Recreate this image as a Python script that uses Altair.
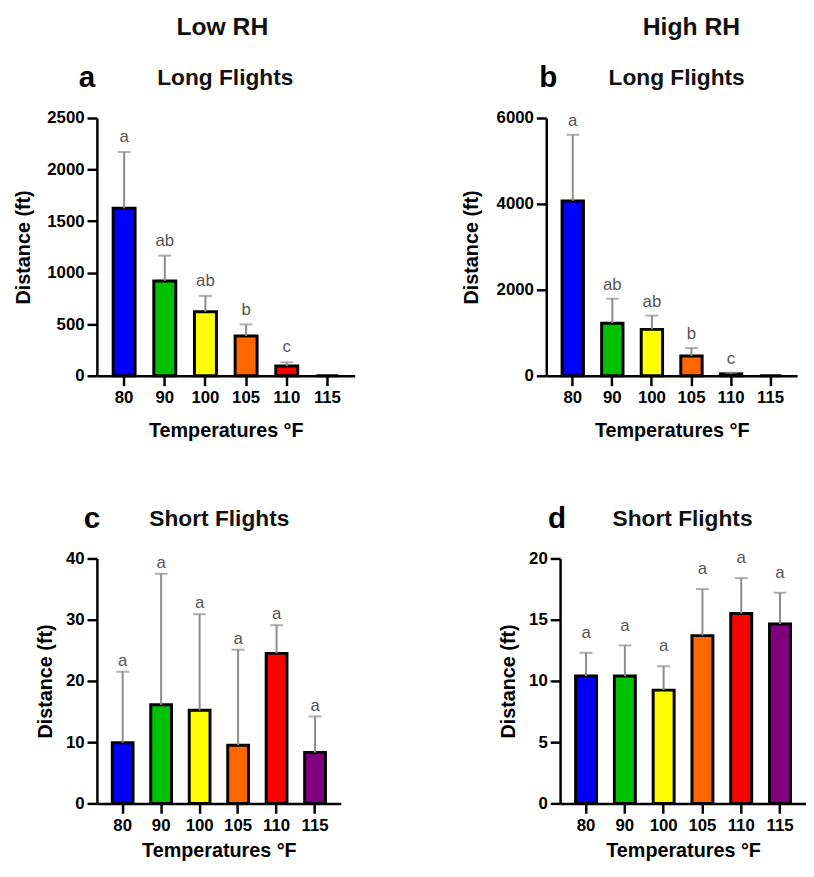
import altair as alt
import pandas as pd

temps = ["80", "90", "100", "105", "110", "115"]
colors = ["#0000ff", "#00c000", "#ffff00", "#ff6600", "#ff0000", "#800080"]

# Panel a: Low RH, long flights
a_mean = [1625, 920, 620, 385, 95, 0]
a_sd = [545, 245, 155, 113, 35, 0]
a_letters = ["a", "ab", "ab", "b", "c", ""]

# Panel b: High RH, long flights
b_mean = [4070, 1220, 1080, 460, 45, 0]
b_sd = [1540, 575, 320, 185, 25, 0]
b_letters = ["a", "ab", "ab", "b", "c", ""]

# Panel c: Low RH, short flights
c_mean = [9.9, 16.1, 15.2, 9.5, 24.5, 8.3]
c_sd = [11.6, 21.4, 15.7, 15.6, 4.6, 5.9]
c_letters = ["a", "a", "a", "a", "a", "a"]

# Panel d: High RH, short flights
d_mean = [10.4, 10.4, 9.25, 13.7, 15.5, 14.65]
d_sd = [1.9, 2.5, 1.95, 3.8, 2.9, 2.55]
d_letters = ["a", "a", "a", "a", "a", "a"]

FONT = "Liberation Sans"


def panel(mean, sd, letters, yticks, W, H, L, T, B, letter, letter_x, sub, sub_x,
          header=None, header_x=0, ytitle_x=-74, xtitle_y=55, lab_dy=-12):
    df = pd.DataFrame({"temp": temps, "mean": mean, "sd": sd, "lab": letters})
    df["top"] = df["mean"] + df["sd"]
    errdf = df[df["mean"] > 0]

    xenc = alt.X("temp:N", sort=temps,
                 scale=alt.Scale(paddingInner=0.46, paddingOuter=0.4),
                 axis=alt.Axis(title="Temperatures °F", labelAngle=0,
                               labelFont=FONT, labelFontSize=17, labelFontWeight="bold",
                               labelColor="black", labelPadding=4,
                               titleFont=FONT, titleFontSize=20, titleFontWeight="bold",
                               titleColor="black", titleY=xtitle_y, titleBaseline="middle",
                               domainColor="black", domainWidth=2.5,
                               tickColor="black", tickWidth=2.5, tickSize=10))
    ydomain = [0, yticks[-1]]
    yscale = alt.Scale(domain=ydomain, nice=False, zero=True)
    yaxis = alt.Axis(title="Distance (ft)", values=yticks, grid=False, format="d",
                     labelFont=FONT, labelFontSize=17, labelFontWeight="bold",
                     labelColor="black", labelPadding=3,
                     titleFont=FONT, titleFontSize=20, titleFontWeight="bold",
                     titleColor="black", titleX=ytitle_x, titleY=H / 2,
                     titleBaseline="middle",
                     domainColor="black", domainWidth=2.5,
                     tickColor="black", tickWidth=2.5, tickSize=10)

    base = alt.Chart(df)
    bars = base.mark_bar(stroke="black", strokeWidth=3).encode(
        x=xenc,
        y=alt.Y("mean:Q", scale=yscale, axis=yaxis),
        color=alt.Color("temp:N", scale=alt.Scale(domain=temps, range=colors), legend=None),
    )
    err = alt.Chart(errdf).mark_rule(color="#8c8c8c", strokeWidth=2).encode(
        x=alt.X("temp:N", sort=temps),
        y=alt.Y("mean:Q"),
        y2="top:Q",
    )
    caps = alt.Chart(errdf).mark_tick(color="#8c8c8c", thickness=2, size=13).encode(
        x=alt.X("temp:N", sort=temps),
        y=alt.Y("top:Q"),
    )
    labs = alt.Chart(errdf).mark_text(font=FONT, fontSize=17, color="#555555",
                                      baseline="middle", dy=lab_dy).encode(
        x=alt.X("temp:N", sort=temps),
        y=alt.Y("top:Q"),
        text="lab:N",
    )
    one = pd.DataFrame({"t": [letter], "s": [sub], "h": [header or ""]})
    let_t = alt.Chart(one).mark_text(font=FONT, fontSize=30, fontWeight="bold",
                                     color="black", baseline="middle").encode(
        text="t:N", x=alt.value(letter_x), y=alt.value(-40))
    sub_t = alt.Chart(one).mark_text(font=FONT, fontSize=23, fontWeight="bold",
                                     color="#111111", baseline="middle").encode(
        text="s:N", x=alt.value(sub_x), y=alt.value(-40))
    bound = alt.Chart(one).mark_rule(opacity=0, strokeWidth=1, color="white").encode(
        x=alt.value(-L), x2=alt.value(W), y=alt.value(-T), y2=alt.value(H + B))
    layers = [bound, bars, err, caps, labs, let_t, sub_t]
    if header:
        hdr = alt.Chart(one).mark_text(font=FONT, fontSize=25, fontWeight="bold",
                                       color="#111111", baseline="middle").encode(
            text="h:N", x=alt.value(header_x), y=alt.value(-92))
        layers.append(hdr)
    return alt.layer(*layers).properties(width=W, height=H)


pa = panel(a_mean, a_sd, a_letters, [0, 500, 1000, 1500, 2000, 2500],
           W=261, H=261, L=84, T=106, B=70, letter="a", letter_x=-10,
           sub="Long Flights", sub_x=130, header="Low RH", header_x=127, ytitle_x=-74,
           lab_dy=-15)
pb = panel(b_mean, b_sd, b_letters, [0, 2000, 4000, 6000],
           W=254, H=261, L=194, T=106, B=70, letter="b", letter_x=2,
           sub="Long Flights", sub_x=132, header="High RH", header_x=147, ytitle_x=-76,
           lab_dy=-14)
pc = panel(c_mean, c_sd, c_letters, [0, 10, 20, 30, 40],
           W=247, H=248, L=74, T=115, B=0, letter="c", letter_x=-5,
           sub="Short Flights", sub_x=124, ytitle_x=-52, xtitle_y=48, lab_dy=-11)
pd_ = panel(d_mean, d_sd, d_letters, [0, 5, 10, 15, 20],
            W=249, H=248, L=222, T=115, B=0, letter="d", letter_x=-3,
            sub="Short Flights", sub_x=124, ytitle_x=-52, xtitle_y=48, lab_dy=-20)

top = alt.hconcat(pa, pb, spacing=0)
bottom = alt.hconcat(pc, pd_, spacing=0)
chart = alt.vconcat(top, bottom, spacing=0).properties(
    padding={"left": 5, "top": 0, "right": 0, "bottom": 0}
).configure(font=FONT, view=alt.ViewConfig(stroke=None))

chart.save("out.html", embed_options={"renderer": "svg", "actions": False})
